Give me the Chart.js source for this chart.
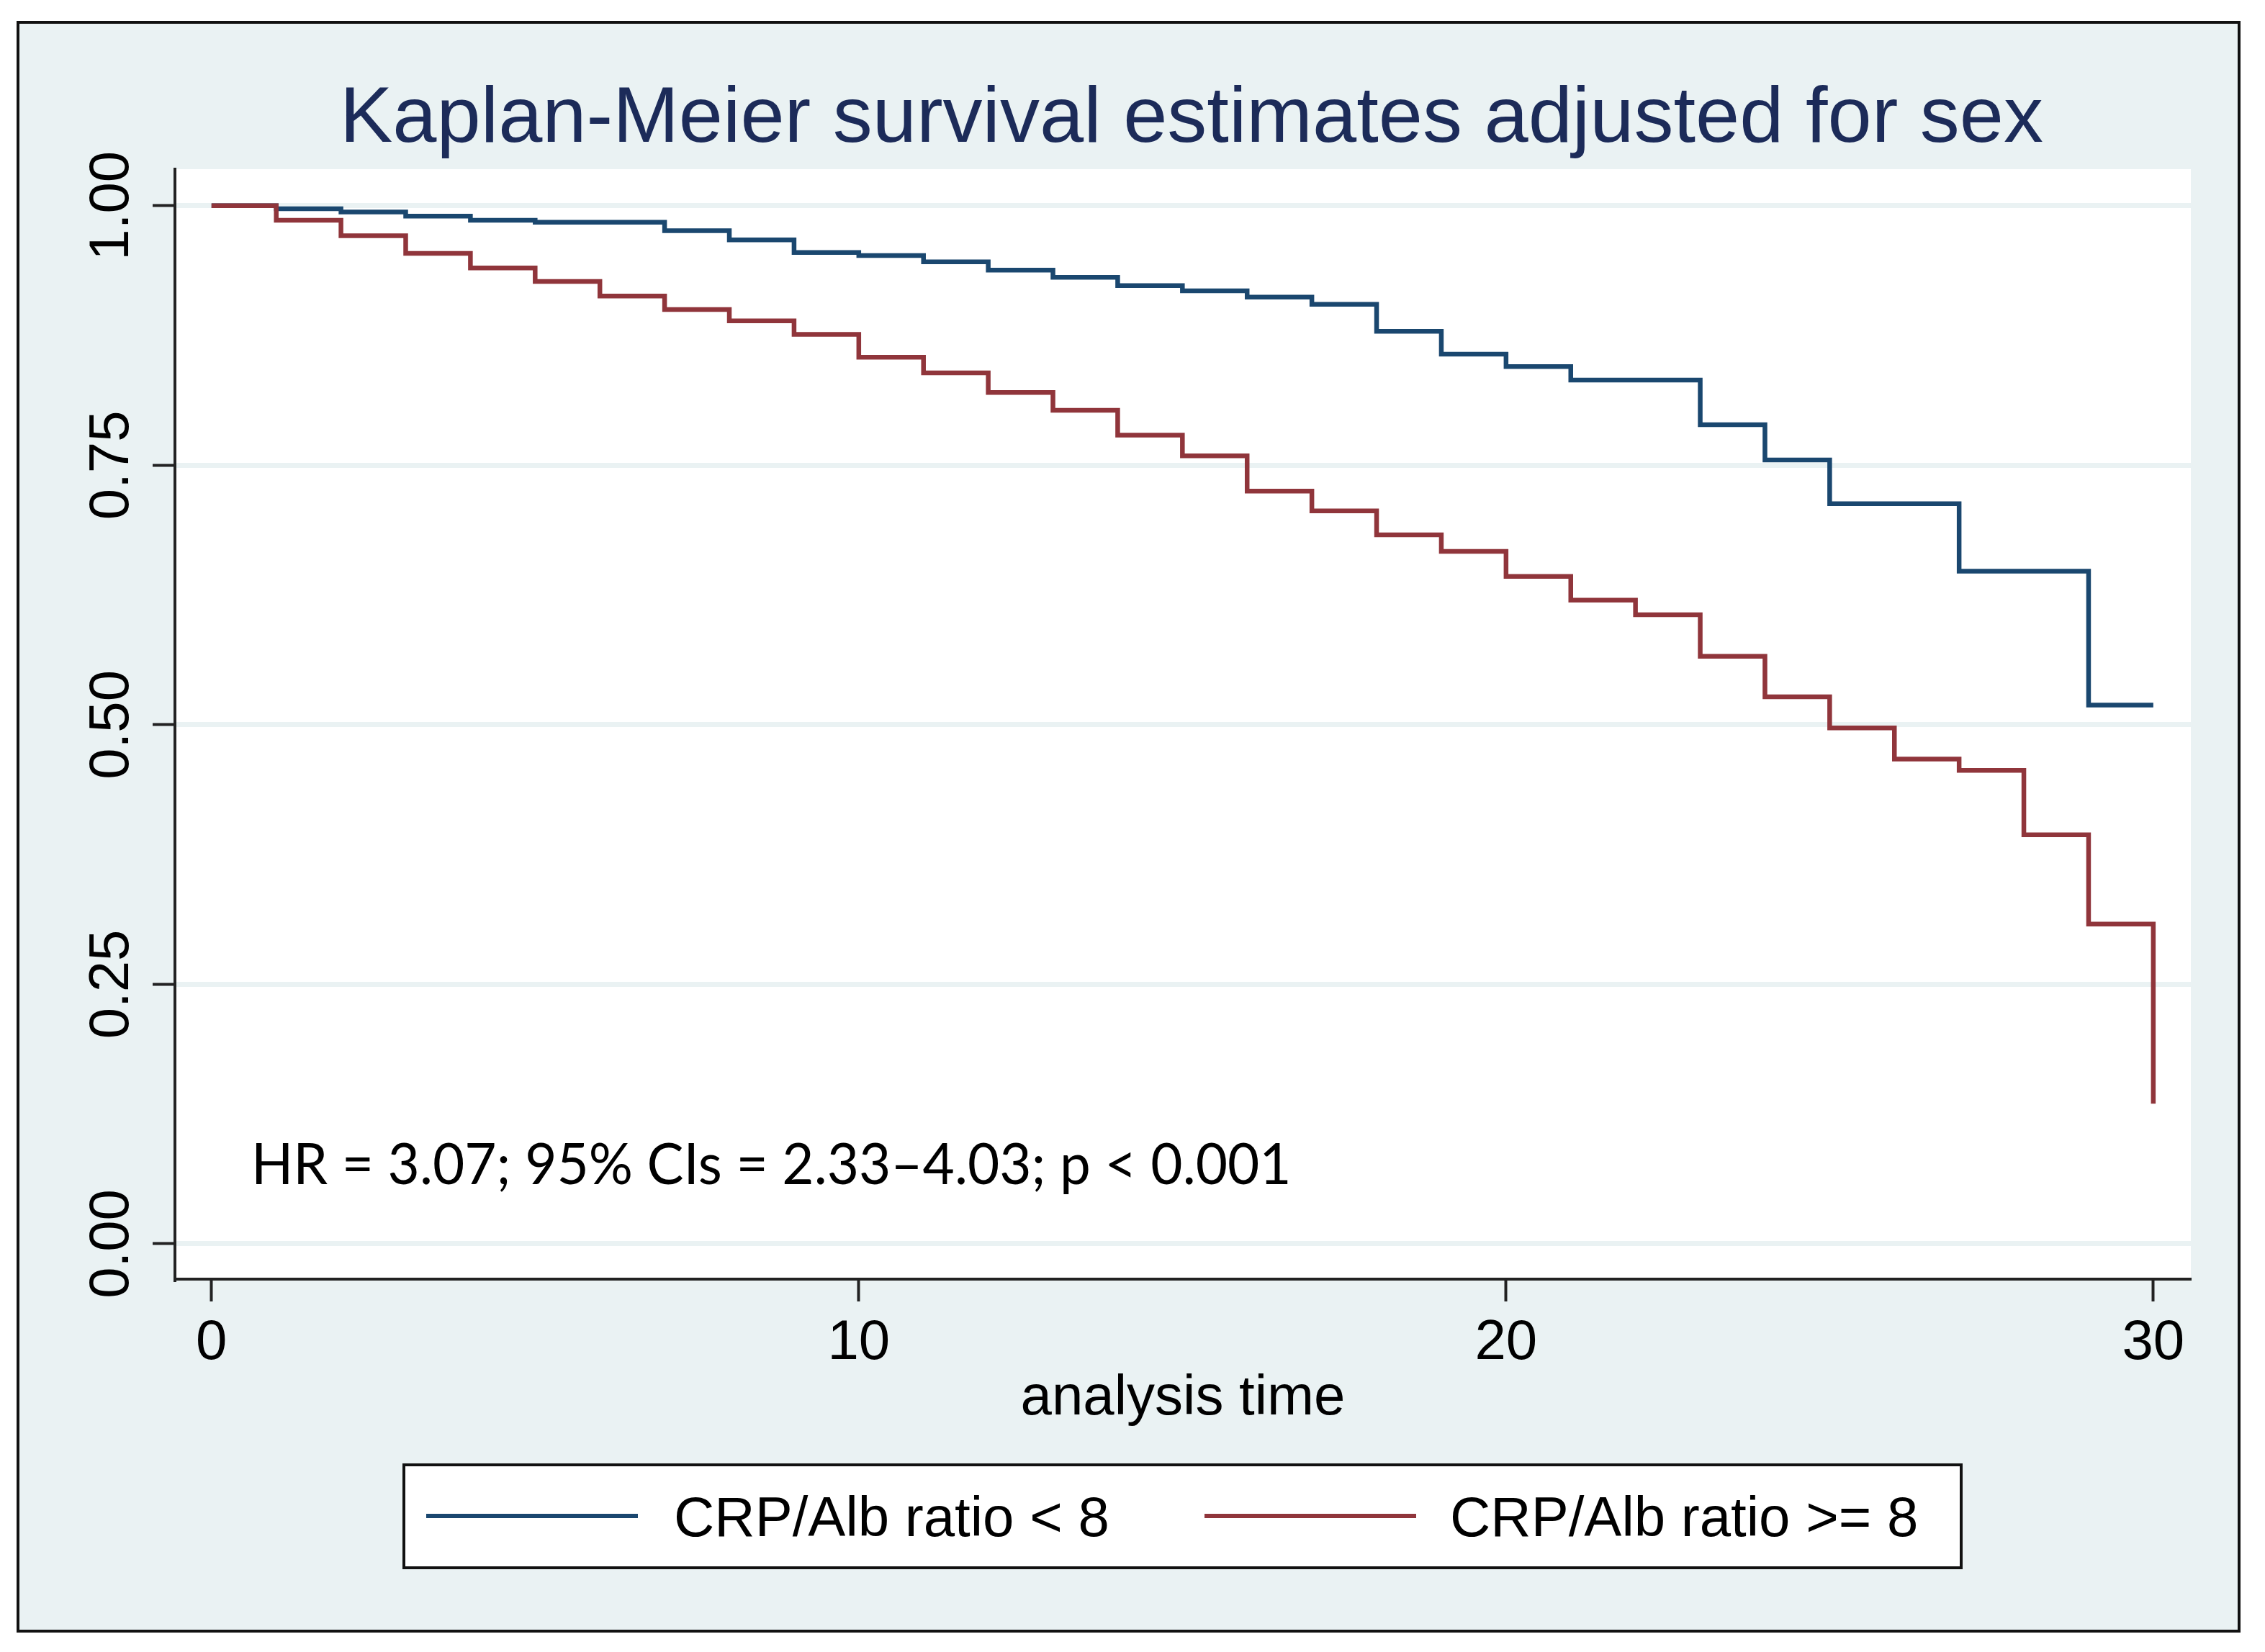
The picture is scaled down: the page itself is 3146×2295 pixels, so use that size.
<!DOCTYPE html>
<html>
<head>
<meta charset="utf-8">
<script src="https://cdn.jsdelivr.net/npm/chart.js@4.4.0/dist/chart.umd.min.js"></script>
<style>
html, body { margin: 0; padding: 0; background: #fff; overflow: hidden; }
canvas { display: block; }
</style>
</head>
<body>
<canvas id="km" width="3146" height="2295" style="width:3146px;height:2295px"></canvas>
<script>
// analysis time (steps) and survival per group
var times = [0,1,2,3,4,5,6,7,8,9,10,11,12,13,14,15,16,17,18,19,20,21,22,23,24,25,26,27,28,29,30];
var survLow = [1.000,0.997,0.994,0.990,0.986,0.984,0.984,0.976,0.967,0.955,0.952,0.946,0.938,0.931,0.923,0.918,0.912,0.905,0.879,0.857,0.845,0.832,0.832,0.789,0.755,0.713,0.713,0.648,0.648,0.519,0.519];
var survHigh = [1.000,0.986,0.971,0.954,0.940,0.927,0.913,0.900,0.889,0.876,0.854,0.839,0.820,0.803,0.779,0.759,0.725,0.706,0.683,0.667,0.643,0.620,0.606,0.566,0.527,0.497,0.467,0.456,0.394,0.308,0.135];

var xTicks = [0, 10, 20, 30];
var yTicks = [0, 0.25, 0.5, 0.75, 1];
var yTickLabels = ['0.00', '0.25', '0.50', '0.75', '1.00'];
var seriesNames = ['CRP/Alb ratio < 8', 'CRP/Alb ratio >= 8'];
var seriesColors = ['#1A476F', '#90353B'];
var titleText = 'Kaplan-Meier survival estimates adjusted for sex';
var xTitle = 'analysis time';
var hrText = 'HR = 3.07; 95% CIs = 2.33\u20134.03; p < 0.001';

var BG = '#EAF2F3';
var SANS = '"Liberation Sans", Arial, sans-serif';

var toPoints = function(ys) {
    return times.map(function(t, i) { return {x: t, y: ys[i]}; });
};

// stata look: bluish frame, white plot region, rotated y labels, boxed legend
var stataLook = {
    id: 'stataLook',
    beforeDraw: function(chart) {
        var ctx = chart.ctx, a = chart.chartArea;
        ctx.save();
        ctx.fillStyle = '#fff';
        ctx.fillRect(0, 0, chart.width, chart.height);
        ctx.fillStyle = BG;
        ctx.fillRect(25, 31, 3085, 2235);
        ctx.lineWidth = 4;
        ctx.strokeStyle = '#111';
        ctx.strokeRect(25, 31, 3085, 2235);
        ctx.fillStyle = '#fff';
        ctx.fillRect(a.left, a.top, a.right - a.left, a.bottom - a.top);
        ctx.restore();
    },
    afterDraw: function(chart) {
        var ctx = chart.ctx, ys = chart.scales.y;
        ctx.save();

        // title
        ctx.fillStyle = '#1C2B59';
        ctx.font = '110px ' + SANS;
        ctx.textAlign = 'center';
        ctx.textBaseline = 'alphabetic';
        ctx.fillText(titleText, 1655, 197);

        // y tick labels, rotated like stata
        ctx.fillStyle = '#000';
        ctx.font = '78px ' + SANS;
        yTicks.forEach(function(v, i) {
            var py = ys.getPixelForValue(v);
            ctx.save();
            ctx.translate(178, py);
            ctx.rotate(-Math.PI / 2);
            ctx.textAlign = 'center';
            ctx.fillText(yTickLabels[i], 0, 0);
            ctx.restore();
        });

        ctx.textAlign = 'left';

        // hazard ratio note (calibri in the original, a bit narrower)
        ctx.save();
        ctx.font = '80px Lato, "Open Sans", sans-serif';
        ctx.translate(349, 1645);
        ctx.scale(0.955, 1);
        ctx.fillText(hrText, 0, 0);
        ctx.restore();

        // legend box
        ctx.fillStyle = '#fff';
        ctx.fillRect(561, 2035, 2163, 143);
        ctx.lineWidth = 4;
        ctx.strokeStyle = '#111';
        ctx.strokeRect(561, 2035, 2163, 143);
        var keys = [[592, 886, 936], [1673, 1967, 2014]];
        keys.forEach(function(k, i) {
            ctx.strokeStyle = seriesColors[i];
            ctx.lineWidth = 6;
            ctx.beginPath();
            ctx.moveTo(k[0], 2106);
            ctx.lineTo(k[1], 2106);
            ctx.stroke();
            ctx.fillStyle = '#000';
            ctx.font = '78px ' + SANS;
            ctx.textAlign = 'left';
            ctx.fillText(seriesNames[i], k[2], 2134);
        });
        ctx.restore();
    }
};

new Chart(document.getElementById('km'), {
    type: 'line',
    data: {
        datasets: [{
            label: seriesNames[0],
            data: toPoints(survLow),
            borderColor: seriesColors[0],
            borderWidth: 6.5,
            stepped: 'before',
            pointRadius: 0,
            fill: false,
            order: 1
        }, {
            label: seriesNames[1],
            data: toPoints(survHigh),
            borderColor: seriesColors[1],
            borderWidth: 6.5,
            stepped: 'before',
            pointRadius: 0,
            fill: false,
            order: 0
        }]
    },
    options: {
        responsive: false,
        animation: false,
        devicePixelRatio: 1,
        layout: { padding: { left: 212, top: 235, right: 103, bottom: 301 } },
        plugins: { legend: { display: false }, tooltip: { enabled: false } },
        scales: {
            x: {
                type: 'linear',
                min: -0.565,
                max: 30.58,
                afterBuildTicks: function(s) { s.ticks = xTicks.map(function(v) { return {value: v}; }); },
                afterFit: function(s) { s.height = 217; },
                grid: { drawOnChartArea: false, drawTicks: true, tickLength: 31, tickColor: '#222', tickWidth: 4 },
                border: { display: true, color: '#222', width: 4 },
                ticks: { color: '#000', font: { size: 78, family: SANS }, padding: 12, maxRotation: 0 },
                title: { display: true, text: xTitle, color: '#000', font: { size: 78, family: SANS } }
            },
            y: {
                type: 'linear',
                min: -0.034,
                max: 1.0352,
                afterBuildTicks: function(s) { s.ticks = yTicks.map(function(v) { return {value: v}; }); },
                afterFit: function(s) { s.width = 31; },
                grid: { color: BG, lineWidth: 7, drawTicks: true, tickLength: 31, tickColor: '#222', tickWidth: 4 },
                border: { display: true, color: '#222', width: 4 },
                ticks: { display: false }
            }
        }
    },
    plugins: [stataLook]
});
</script>
</body>
</html>
